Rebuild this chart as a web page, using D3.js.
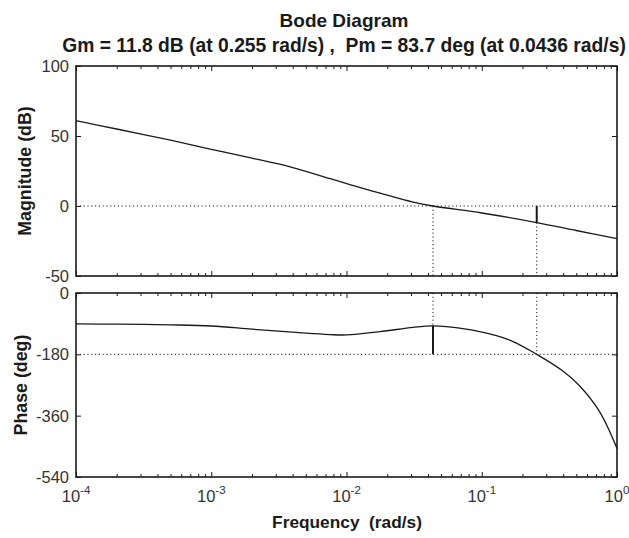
<!DOCTYPE html>
<html>
<head>
<meta charset="utf-8">
<script src="https://cdn.jsdelivr.net/npm/d3@7"></script>
<style>
  body { margin: 0; background: #fff; }
  text { font-family: "Liberation Sans", Arial, Helvetica, sans-serif; }
</style>
</head>
<body>
<svg width="629" height="538"></svg>
<script>
// values
const magFreq = [1e-4, 2e-4, 5e-4, 1e-3, 2e-3, 3.83e-3, 7.6e-3, 0.0106, 0.0177, 0.0311, 0.0436, 0.1, 0.255, 0.5, 1];
const magDb   = [61, 55, 47, 40.5, 34.2, 28, 19.5, 15.3, 9.2, 2.8, 0, -5, -11.8, -17.5, -23.3];

const phaseFreq = [1e-4, 2e-4, 5e-4, 1e-3, 2e-3, 5e-3, 7.5e-3, 0.01, 0.0177, 0.0311, 0.0436, 0.0548, 0.0966, 0.161, 0.255, 0.398, 0.528, 0.743, 1];
const phaseDeg  = [-90.5, -91.5, -93.5, -96.8, -106, -118, -122, -123, -113.5, -100.8, -96.3, -98.8, -113.5, -138, -180, -229, -272, -348, -456];

const decades = [1e-4, 1e-3, 1e-2, 1e-1, 1];
const decadeExp = ["-4", "-3", "-2", "-1", "0"];
const magTicks = [100, 50, 0, -50];
const phaseTicks = [0, -180, -360, -540];

const gmDb = 11.8, gmFreq = 0.255;   // gain margin
const pmDeg = 83.7, pmFreq = 0.0436; // phase margin

const svg = d3.select('svg');
const left = 76, right = 617;

const x = d3.scaleLog().domain([1e-4, 1]).range([left, right]);
const yMag = d3.scaleLinear().domain([-50, 100]).range([276, 66]);
const yPh = d3.scaleLinear().domain([-540, 0]).range([477, 293]);

const ink = '#1a1a1a';
const minor = x.ticks().filter(v => !decades.some(d => Math.abs(d - v) < 1e-12));

// title
svg.append('text').attr('x', 344).attr('y', 27).attr('text-anchor', 'middle')
  .attr('font-size', 19).attr('font-weight', 'bold').attr('fill', ink)
  .text('Bode Diagram');
svg.append('text').attr('x', 344).attr('y', 52).attr('text-anchor', 'middle')
  .attr('font-size', 19.3).attr('font-weight', 'bold').attr('fill', ink)
  .style('white-space', 'pre')
  .text(`Gm = ${gmDb} dB (at ${gmFreq} rad/s) ,  Pm = ${pmDeg} deg (at ${pmFreq} rad/s)`);

function panel(y, ticks, label, labelX) {
  const g = svg.append('g');
  const [y0, y1] = y.range(); // bottom, top
  const dotted = g.append('g');

  // ticks on all four sides, pointing inward
  const mk = (axis, tx, ty) => {
    const a = g.append('g').attr('transform', `translate(${tx},${ty})`).call(axis);
    a.select('.domain').remove();
    a.selectAll('line').attr('stroke', ink).attr('stroke-width', 1);
    a.selectAll('text').remove();
  };
  mk(d3.axisBottom(x).tickValues(decades).tickSize(-5), 0, y0);
  mk(d3.axisBottom(x).tickValues(minor).tickSize(-3), 0, y0);
  mk(d3.axisTop(x).tickValues(decades).tickSize(-5), 0, y1);
  mk(d3.axisTop(x).tickValues(minor).tickSize(-3), 0, y1);
  mk(d3.axisLeft(y).tickValues(ticks).tickSize(-5), left, 0);
  mk(d3.axisRight(y).tickValues(ticks).tickSize(-5), right, 0);

  g.append('rect').attr('x', left).attr('y', y1).attr('width', right - left).attr('height', y0 - y1)
    .attr('fill', 'none').attr('stroke', ink).attr('stroke-width', 1.6);

  g.selectAll('.ylab').data(ticks).join('text')
    .attr('x', 69).attr('y', d => y(d)).attr('dy', '0.36em')
    .attr('text-anchor', 'end').attr('font-size', 16.5).attr('fill', '#333')
    .text(d => d);

  g.append('text')
    .attr('transform', `translate(${labelX},${(y0 + y1) / 2}) rotate(-90)`)
    .attr('text-anchor', 'middle').attr('font-size', 17.8).attr('font-weight', 'bold').attr('fill', ink)
    .text(label);
  return {g, dotted};
}

const magPanel = panel(yMag, magTicks, 'Magnitude (dB)', 31);
const phPanel = panel(yPh, phaseTicks, 'Phase (deg)', 27);

const line = (y) => d3.line().x(d => x(d[0])).y(d => y(d[1])).curve(d3.curveCatmullRom.alpha(0.5));
const dots = sel => sel.attr('stroke', ink).attr('stroke-width', 1).attr('stroke-dasharray', '1.2,2.6').attr('fill', 'none');

// dotted reference lines
const magAtGm = -gmDb;
const phAtPm = pmDeg - 180;
magPanel.dotted.append('line').attr('x1', left).attr('x2', right).attr('y1', yMag(0)).attr('y2', yMag(0)).call(dots);
magPanel.dotted.append('line').attr('x1', x(pmFreq)).attr('x2', x(pmFreq)).attr('y1', yMag(0)).attr('y2', yMag(-50)).call(dots);
magPanel.dotted.append('line').attr('x1', x(gmFreq)).attr('x2', x(gmFreq)).attr('y1', yMag(magAtGm)).attr('y2', yMag(-50)).call(dots);
phPanel.dotted.append('line').attr('x1', left).attr('x2', right).attr('y1', yPh(-180)).attr('y2', yPh(-180)).call(dots);
phPanel.dotted.append('line').attr('x1', x(pmFreq)).attr('x2', x(pmFreq)).attr('y1', yPh(0)).attr('y2', yPh(phAtPm)).call(dots);
phPanel.dotted.append('line').attr('x1', x(gmFreq)).attr('x2', x(gmFreq)).attr('y1', yPh(0)).attr('y2', yPh(-180)).call(dots);

// curves
magPanel.g.append('path').attr('d', line(yMag)(magFreq.map((f, i) => [f, magDb[i]])))
  .attr('fill', 'none').attr('stroke', ink).attr('stroke-width', 1.3);
phPanel.g.append('path').attr('d', line(yPh)(phaseFreq.map((f, i) => [f, phaseDeg[i]])))
  .attr('fill', 'none').attr('stroke', ink).attr('stroke-width', 1.3);

// margin bars
magPanel.g.append('line').attr('x1', x(gmFreq)).attr('x2', x(gmFreq)).attr('y1', yMag(0)).attr('y2', yMag(magAtGm))
  .attr('stroke', ink).attr('stroke-width', 2);
phPanel.g.append('line').attr('x1', x(pmFreq)).attr('x2', x(pmFreq)).attr('y1', yPh(phAtPm)).attr('y2', yPh(-180))
  .attr('stroke', ink).attr('stroke-width', 2);

// x tick labels 10^n
const xl = svg.selectAll('.xlab').data(decades).join('text')
  .attr('x', d => x(d)).attr('y', 502).attr('text-anchor', 'middle')
  .attr('font-size', 16.5).attr('fill', '#333');
xl.append('tspan').text('10');
xl.append('tspan').attr('dy', -8).attr('font-size', 11.5).text((d, i) => decadeExp[i]);

svg.append('text').attr('x', 347).attr('y', 528).attr('text-anchor', 'middle')
  .attr('font-size', 17.3).attr('font-weight', 'bold').attr('fill', ink)
  .style('white-space', 'pre')
  .text('Frequency  (rad/s)');
</script>
</body>
</html>
